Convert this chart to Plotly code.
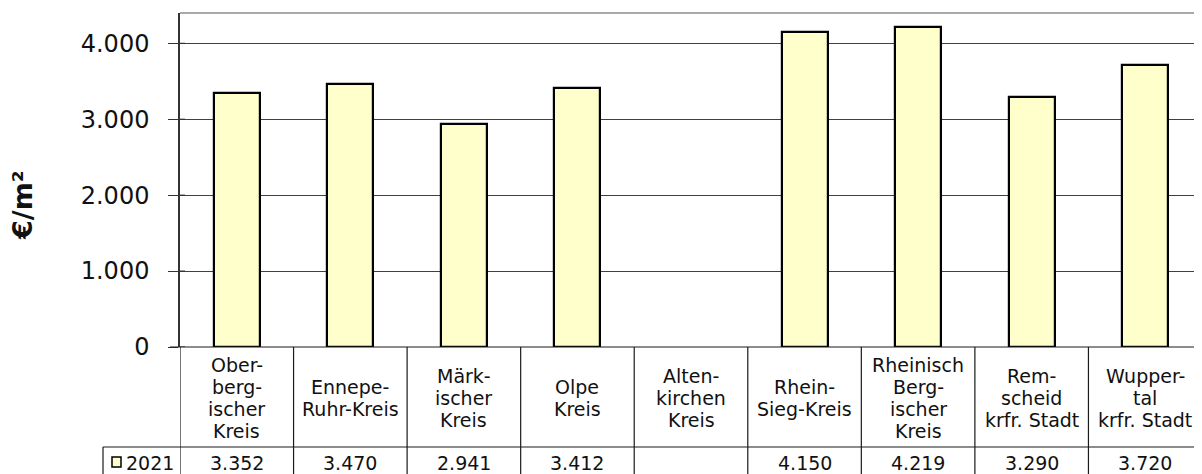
import plotly.graph_objects as go

# ---- data ----
categories = [
    "Ober-<br>berg-<br>ischer<br>Kreis",
    "Ennepe-<br>Ruhr-Kreis",
    "Märk-<br>ischer<br>Kreis",
    "Olpe<br>Kreis",
    "Alten-<br>kirchen<br>Kreis",
    "Rhein-<br>Sieg-Kreis",
    "Rheinisch<br>Berg-<br>ischer<br>Kreis",
    "Rem-<br>scheid<br>krfr. Stadt",
    "Wupper-<br>tal<br>krfr. Stadt",
]
values_2021 = [3352, 3470, 2941, 3412, None, 4150, 4219, 3290, 3720]
series_name = "2021"
y_ticks = [0, 1000, 2000, 3000, 4000]
y_tick_labels = ["0", "1.000", "2.000", "3.000", "4.000"]
y_title = "€/m²"

# ---- layout helpers (page pixel -> paper); page body has an 8px margin ----
OFF = 8
W, H = 1202 - OFF, 474 - OFF
def px(x):
    return (x - OFF) / W
def py(y):
    return 1 - (y - OFF) / H

PLOT_L, PLOT_T, PLOT_B = 180, 13, 347
ROW_SPLIT = 447
TABLE_L = 103
FONT = "DejaVu Sans"
FILL = "#FFFFCC"
TXT = "#111111"

xpos = list(range(len(categories)))

fig = go.Figure()
fig.add_trace(go.Bar(
    x=xpos, y=values_2021, name=series_name,
    marker=dict(color=FILL, line=dict(color="black", width=2.2)),
    width=0.405, showlegend=False, hoverinfo="skip",
))

shapes = []
ann = []

# top border of plot area
shapes.append(dict(type="line", xref="paper", yref="paper",
                   x0=px(PLOT_L), x1=1.0, y0=py(PLOT_T), y1=py(PLOT_T),
                   line=dict(color="#8c8c8c", width=1.5)))
# inside half of the crossing tick marks
for t in y_ticks:
    shapes.append(dict(type="line", xref="paper", yref="y",
                       x0=px(PLOT_L), x1=px(PLOT_L + 5), y0=t, y1=t,
                       line=dict(color="#333333", width=1.2)))

# table lines
line_col = "#1a1a1a"
shapes.append(dict(type="line", xref="paper", yref="paper",
                   x0=px(PLOT_L - 10), x1=1.0, y0=py(PLOT_B), y1=py(PLOT_B),
                   line=dict(color=line_col, width=1.2)))
shapes.append(dict(type="line", xref="paper", yref="paper",
                   x0=px(TABLE_L), x1=1.0, y0=py(ROW_SPLIT), y1=py(ROW_SPLIT),
                   line=dict(color=line_col, width=1.2)))
shapes.append(dict(type="line", xref="paper", yref="paper",
                   x0=px(TABLE_L), x1=px(TABLE_L), y0=py(ROW_SPLIT), y1=py(480),
                   line=dict(color=line_col, width=1.2)))
for i in range(len(categories) + 1):
    shapes.append(dict(type="line", xref="x", yref="paper",
                       x0=i - 0.5, x1=i - 0.5, y0=py(PLOT_B), y1=py(480),
                       line=dict(color=line_col, width=1.2)))

# category labels (one annotation per line for Excel-like line spacing)
LINE_H = 22.0
cell_mid = (PLOT_B + ROW_SPLIT) / 2 + 0.5
for i, cat in enumerate(categories):
    parts = cat.split("<br>")
    n = len(parts)
    for k, p in enumerate(parts):
        yc = cell_mid + (k - (n - 1) / 2) * LINE_H
        ann.append(dict(x=i, xref="x", y=py(yc), yref="paper", text=p,
                        showarrow=False, xanchor="center", yanchor="middle",
                        font=dict(family=FONT, size=19, color=TXT)))

# values row
VAL_Y = 463
for i, v in enumerate(values_2021):
    if v is None:
        continue
    txt = f"{v:,}".replace(",", ".")
    ann.append(dict(x=i, xref="x", y=py(VAL_Y), yref="paper", text=txt,
                    showarrow=False, xanchor="center", yanchor="middle",
                    font=dict(family=FONT, size=19, color=TXT)))

# legend key in table
shapes.append(dict(type="rect", xref="paper", yref="paper",
                   x0=px(112), x1=px(121), y0=py(467), y1=py(457),
                   fillcolor=FILL, line=dict(color="black", width=1.5)))
ann.append(dict(x=px(124), xref="paper", y=py(VAL_Y), yref="paper", text=series_name,
                showarrow=False, xanchor="left", yanchor="middle",
                font=dict(family=FONT, size=19, color=TXT)))

# y axis title
ann.append(dict(x=px(22), xref="paper", y=py(205), yref="paper", text=f"<b>{y_title}</b>",
                showarrow=False, xanchor="center", yanchor="middle", textangle=-90,
                font=dict(family=FONT, size=27, color=TXT)))

fig.update_layout(
    width=W, height=H,
    margin=dict(l=0, r=0, t=0, b=0, autoexpand=False),
    paper_bgcolor="white", plot_bgcolor="white",
    shapes=shapes, annotations=ann,
    bargap=0,
    xaxis=dict(domain=[px(PLOT_L), 1.0], range=[-0.5, len(categories) - 0.5],
               showticklabels=False, showgrid=False, zeroline=False, ticks="",
               showline=False, fixedrange=True),
    yaxis=dict(domain=[py(PLOT_B), py(PLOT_T)], range=[0, 4400],
               tickvals=y_ticks, ticktext=y_tick_labels,
               ticks="outside", ticklen=10, tickcolor="#333333", tickwidth=1.2,
               ticklabelstandoff=14,
               showgrid=True, gridcolor="#404040", gridwidth=1.2,
               zeroline=False, showline=True, linecolor="#333333", linewidth=1.5,
               tickfont=dict(family=FONT, size=24, color=TXT),
               automargin=False, fixedrange=True),
)

fig.write_html("out.html")
